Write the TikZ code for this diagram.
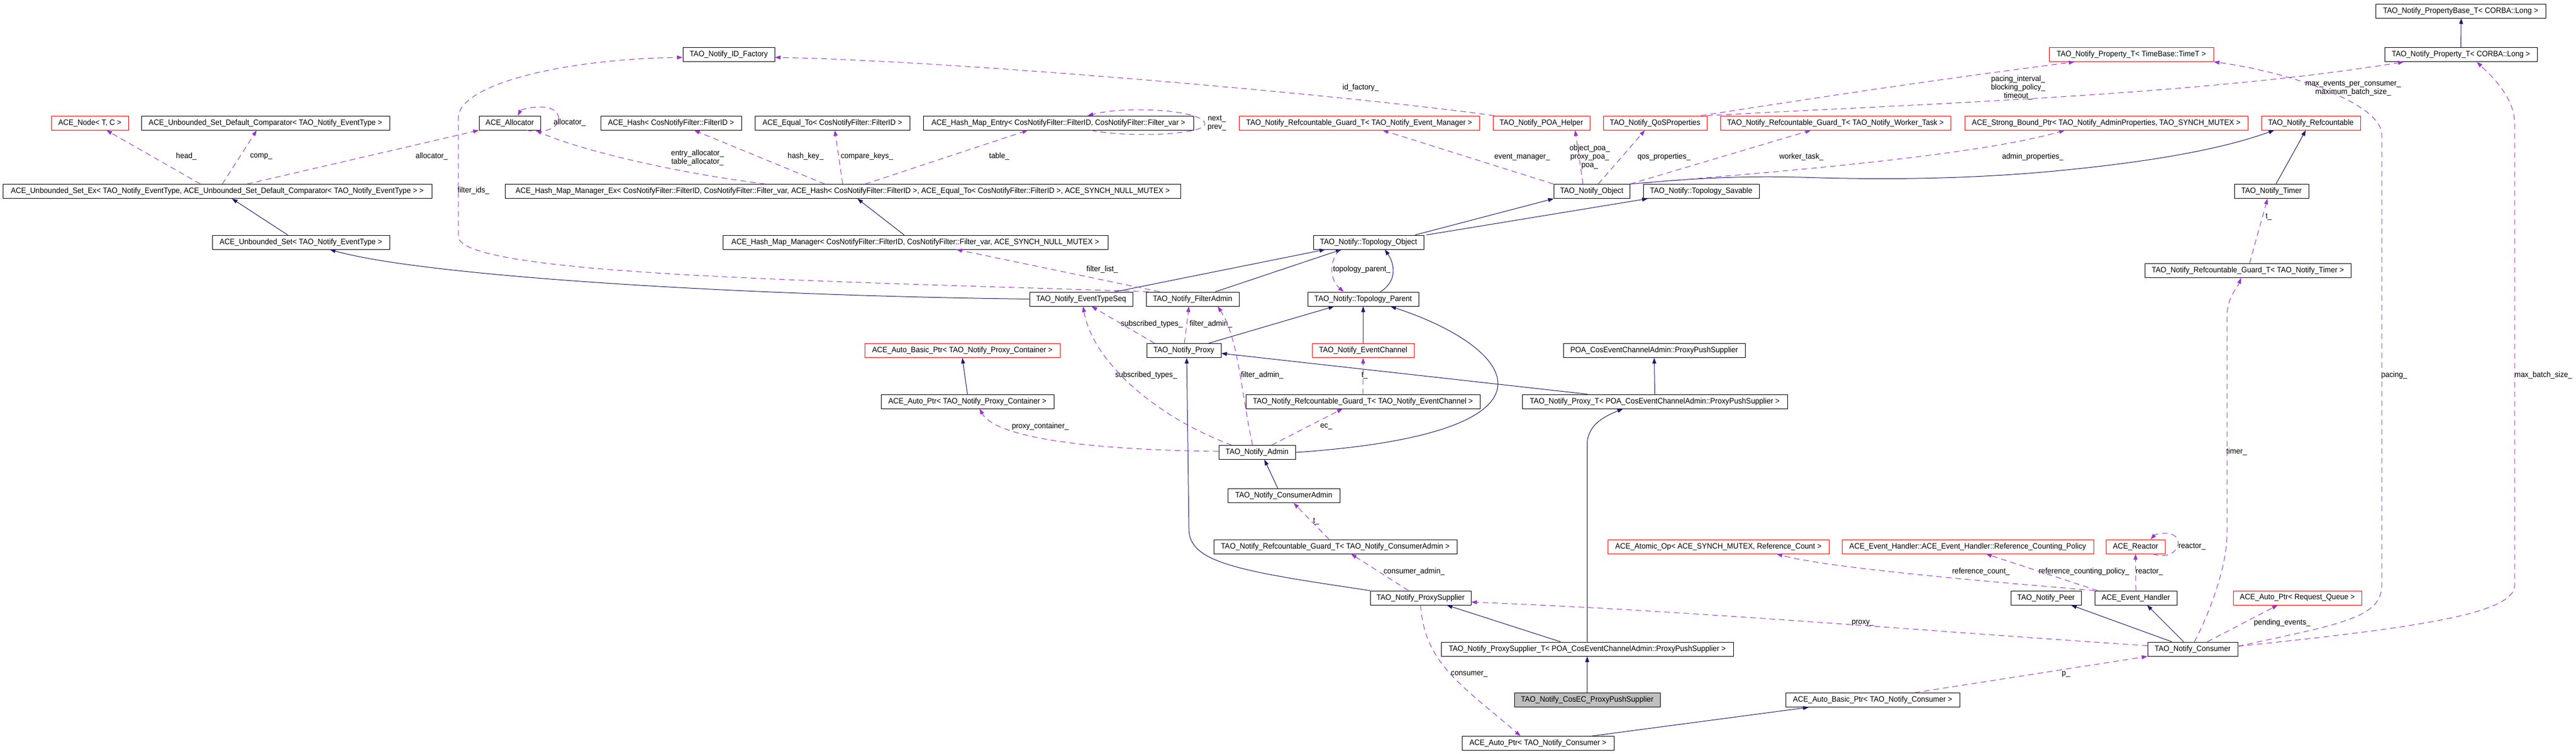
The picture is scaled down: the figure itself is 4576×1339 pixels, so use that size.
\documentclass[tikz,border=0pt]{standalone}
\usepackage{fontspec}
\usetikzlibrary{arrows.meta}
\newfontfamily\dxfont[FakeStretch=0.94]{Liberation Sans}
\definecolor{dxnavy}{HTML}{191970}
\definecolor{dxpurple}{HTML}{9A32CD}
\definecolor{dxgray}{HTML}{BFBFBF}

\begin{document}
\begin{tikzpicture}[x=1pt, y=-1pt,
    every node/.style={font=\dxfont\fontsize{14}{15}\selectfont, inner sep=0pt},
    cls/.style={draw=black, fill=white, line width=1pt, minimum height=25pt, minimum width=#1pt},
    redcls/.style={cls=#1, draw=red},
    curcls/.style={cls=#1, fill=dxgray},
    lbl/.style={align=center},
    isa/.style={draw=dxnavy, line width=1pt, -{Triangle[length=10pt,width=7pt]}},
    hasa/.style={draw=dxpurple, line width=1pt, dash pattern=on 10pt off 7pt, -{Triangle[length=10pt,width=7pt]}}]
        \useasboundingbox (0,0) rectangle (4576,1339);

        % Vertices
        \node[cls=302] (propbase) at (4371,19.5) {TAO\_Notify\_PropertyBase\_T< CORBA::Long >};
        \node[cls=163] (idfactory) at (1294.5,97) {TAO\_Notify\_ID\_Factory};
        \node[redcls=292] (proptime) at (3786,97) {TAO\_Notify\_Property\_T< TimeBase::TimeT >};
        \node[cls=271] (proplong) at (4371.5,97) {TAO\_Notify\_Property\_T< CORBA::Long >};

        \node[redcls=137] (acenode) at (159.5,218.5) {ACE\_Node< T, C >};
        \node[cls=441] (defcmp) at (471.5,218.5) {ACE\_Unbounded\_Set\_Default\_Comparator< TAO\_Notify\_EventType >};
        \node[cls=109] (alloc) at (905.5,218.5) {ACE\_Allocator};
        \node[cls=250] (hash) at (1192,218.5) {ACE\_Hash< CosNotifyFilter::FilterID >};
        \node[cls=275] (equal) at (1478.5,218.5) {ACE\_Equal\_To< CosNotifyFilter::FilterID >};
        \node[cls=480] (entry) at (1880,218.5) {ACE\_Hash\_Map\_Entry< CosNotifyFilter::FilterID, CosNotifyFilter::Filter\_var >};
        \node[redcls=427] (guardem) at (2414.5,218.5) {TAO\_Notify\_Refcountable\_Guard\_T< TAO\_Notify\_Event\_Manager >};
        \node[redcls=172] (poahelper) at (2738,218.5) {TAO\_Notify\_POA\_Helper};
        \node[redcls=184] (qos) at (2940,218.5) {TAO\_Notify\_QoSProperties};
        \node[redcls=409] (guardwt) at (3260.5,218.5) {TAO\_Notify\_Refcountable\_Guard\_T< TAO\_Notify\_Worker\_Task >};
        \node[redcls=503] (strongptr) at (3741.5,218.5) {ACE\_Strong\_Bound\_Ptr< TAO\_Notify\_AdminProperties, TAO\_SYNCH\_MUTEX >};
        \node[redcls=176] (refcnt) at (4105,218.5) {TAO\_Notify\_Refcountable};

        \node[cls=762] (setex) at (386,340) {ACE\_Unbounded\_Set\_Ex< TAO\_Notify\_EventType, ACE\_Unbounded\_Set\_Default\_Comparator< TAO\_Notify\_EventType > >};
        \node[cls=1200] (mapex) at (1497,340) {ACE\_Hash\_Map\_Manager\_Ex< CosNotifyFilter::FilterID, CosNotifyFilter::Filter\_var, ACE\_Hash< CosNotifyFilter::FilterID >, ACE\_Equal\_To< CosNotifyFilter::FilterID >, ACE\_SYNCH\_NULL\_MUTEX >};
        \node[cls=135] (notifyobj) at (2827.5,340) {TAO\_Notify\_Object};
        \node[cls=206] (savable) at (3022,340) {TAO\_Notify::Topology\_Savable};
        \node[cls=132] (timer) at (4035,340) {TAO\_Notify\_Timer};

        \node[cls=315] (uset) at (534.5,430.5) {ACE\_Unbounded\_Set< TAO\_Notify\_EventType >};
        \node[cls=684] (mapmgr) at (1626,430.5) {ACE\_Hash\_Map\_Manager< CosNotifyFilter::FilterID, CosNotifyFilter::Filter\_var, ACE\_SYNCH\_NULL\_MUTEX >};
        \node[cls=196] (topoobj) at (2431,430.5) {TAO\_Notify::Topology\_Object};
        \node[cls=366] (guardtimer) at (3993,481) {TAO\_Notify\_Refcountable\_Guard\_T< TAO\_Notify\_Timer >};

        \node[cls=183] (evtseq) at (1920.5,531.5) {TAO\_Notify\_EventTypeSeq};
        \node[cls=165] (filteradmin) at (2118.5,531.5) {TAO\_Notify\_FilterAdmin};
        \node[cls=197] (topoparent) at (2421.5,531.5) {TAO\_Notify::Topology\_Parent};

        \node[redcls=347] (basicpc) at (1709.5,623) {ACE\_Auto\_Basic\_Ptr< TAO\_Notify\_Proxy\_Container >};
        \node[cls=132] (proxy) at (2103,623) {TAO\_Notify\_Proxy};
        \node[redcls=181] (evchannel) at (2421.5,623) {TAO\_Notify\_EventChannel};
        \node[cls=323] (poapps) at (2938.5,623) {POA\_CosEventChannelAdmin::ProxyPushSupplier};

        \node[cls=307] (autopc) at (1718.5,713.5) {ACE\_Auto\_Ptr< TAO\_Notify\_Proxy\_Container >};
        \node[cls=416] (guardec) at (2421,713.5) {TAO\_Notify\_Refcountable\_Guard\_T< TAO\_Notify\_EventChannel >};
        \node[cls=471] (proxyt) at (2939.5,713.5) {TAO\_Notify\_Proxy\_T< POA\_CosEventChannelAdmin::ProxyPushSupplier >};

        \node[cls=136] (admin) at (2233,804) {TAO\_Notify\_Admin};
        \node[cls=199] (consadmin) at (2280.5,881) {TAO\_Notify\_ConsumerAdmin};

        \node[cls=432] (guardca) at (2372,971.5) {TAO\_Notify\_Refcountable\_Guard\_T< TAO\_Notify\_ConsumerAdmin >};
        \node[redcls=393] (atomic) at (3052.5,971.5) {ACE\_Atomic\_Op< ACE\_SYNCH\_MUTEX, Reference\_Count >};
        \node[redcls=447] (refpolicy) at (3495.5,971.5) {ACE\_Event\_Handler::ACE\_Event\_Handler::Reference\_Counting\_Policy};
        \node[redcls=105] (reactor) at (3793.5,971.5) {ACE\_Reactor};

        \node[cls=179] (proxysup) at (2523.5,1062.5) {TAO\_Notify\_ProxySupplier};
        \node[cls=125] (peer) at (3634.5,1062.5) {TAO\_Notify\_Peer};
        \node[cls=146] (evhandler) at (3794,1062.5) {ACE\_Event\_Handler};
        \node[redcls=228] (reqqueue) at (4081,1062.5) {ACE\_Auto\_Ptr< Request\_Queue >};

        \node[cls=519] (proxysupt) at (2819.5,1153.5) {TAO\_Notify\_ProxySupplier\_T< POA\_CosEventChannelAdmin::ProxyPushSupplier >};
        \node[cls=160] (consumer) at (3895,1153.5) {TAO\_Notify\_Consumer};

        \node[curcls=259] (cosec) at (2819.5,1244) {TAO\_Notify\_CosEC\_ProxyPushSupplier};
        \node[cls=309] (basiccons) at (3326.5,1244) {ACE\_Auto\_Basic\_Ptr< TAO\_Notify\_Consumer >};
        \node[cls=270] (autocons) at (2732,1321) {ACE\_Auto\_Ptr< TAO\_Notify\_Consumer >};

        % Edge labels
        \node[lbl] (lhead) at (331,278) {head\_};
        \node[lbl] (lcomp) at (464,278) {comp\_};
        \node[lbl] (lalloc) at (767,278) {allocator\_};
        \node[lbl] (lallocself) at (1012,218) {allocator\_};
        \node[lbl] (lfilterids) at (841,339) {filter\_ids\_};
        \node[lbl] (lentryalloc) at (1239,280) {entry\_allocator\_\\table\_allocator\_};
        \node[lbl] (lhashkey) at (1431,278) {hash\_key\_};
        \node[lbl] (lcmpkeys) at (1540,278) {compare\_keys\_};
        \node[lbl] (ltable) at (1775,278) {table\_};
        \node[lbl, anchor=west] (lnext) at (2145,219) {next\_\\prev\_};
        \node[lbl] (lidfactory) at (2417,156) {id\_factory\_};
        \node[lbl] (levtmgr) at (2704,279) {event\_manager\_};
        \node[lbl] (lpoa) at (2824,279) {object\_poa\_\\proxy\_poa\_\\poa\_};
        \node[lbl] (lqos) at (2956,279) {qos\_properties\_};
        \node[lbl] (lworker) at (3200,279) {worker\_task\_};
        \node[lbl] (ladminprops) at (3611,279) {admin\_properties\_};
        \node[lbl] (lpacingint) at (3585,156) {pacing\_interval\_\\blocking\_policy\_\\timeout\_};
        \node[lbl] (lmaxevents) at (4180,157) {max\_events\_per\_consumer\_\\maximum\_batch\_size\_};
        \node[lbl] (ltimert) at (4030,385) {t\_};
        \node[lbl] (lfilterlist) at (1958,479) {filter\_list\_};
        \node[lbl] (ltopoparent) at (2419,479) {topology\_parent\_};
        \node[lbl] (lsubtypes) at (2046,576) {subscribed\_types\_};
        \node[lbl] (lfadmin) at (2151,576) {filter\_admin\_};
        \node[lbl] (lsubtypesb) at (2036,667) {subscribed\_types\_};
        \node[lbl] (lfadminb) at (2242,667) {filter\_admin\_};
        \node[lbl] (lect) at (2424,667) {t\_};
        \node[lbl] (lproxycont) at (1848,758) {proxy\_container\_};
        \node[lbl] (lec) at (2356,758) {ec\_};
        \node[lbl] (ltimer) at (3973,803) {timer\_};
        \node[lbl] (lpacing) at (4253,667) {pacing\_};
        \node[lbl] (lmaxbatch) at (4518,667) {max\_batch\_size\_};
        \node[lbl] (lcat) at (2338,926) {t\_};
        \node[lbl] (lconsadmin) at (2512,1016) {consumer\_admin\_};
        \node[lbl] (lrefcount) at (3519,1016) {reference\_count\_};
        \node[lbl] (lrefpolicy) at (3702,1016) {reference\_counting\_policy\_};
        \node[lbl] (lreactor) at (3818,1016) {reactor\_};
        \node[lbl] (lreactorself) at (3894,971) {reactor\_};
        \node[lbl] (lproxy) at (3309,1107) {proxy\_};
        \node[lbl] (lpending) at (4054,1107) {pending\_events\_};
        \node[lbl] (lp) at (3670,1198) {p\_};
        \node[lbl] (lconsumer) at (2610,1198) {consumer\_};

        % Edges: base classes
        \draw[isa] ([xshift=-23.5pt]uset.north) -- ([xshift=26pt]setex.south);
        \draw[isa] ([xshift=-20pt]mapmgr.north) -- ([xshift=26pt]mapex.south);
        \draw[isa] (evtseq.west) .. controls (1300,525) and (750,490) .. ([xshift=51.5pt]uset.south);
        \draw[isa] ([xshift=60.5pt]evtseq.north) -- ([xshift=-77pt]topoobj.south);
        \draw[isa] ([xshift=40.5pt]filteradmin.north) -- ([xshift=-48pt]topoobj.south);
        \draw[isa] ([xshift=30.5pt]topoparent.north) .. controls (2482,500) and (2478,470) .. ([xshift=29pt]topoobj.south);
        \draw[isa] ([xshift=83pt]topoobj.north) -- ([xshift=-67.5pt]notifyobj.south);
        \draw[isa] ([xshift=103pt]topoobj.north) -- ([xshift=-95pt]savable.south);
        \draw[isa] (notifyobj.north east) .. controls (3000,318) and (3080,312) .. (3200,315) .. controls (3350,320) and (3500,318) .. (3650,304) .. controls (3850,285) and (3960,260) .. ([xshift=-65pt]refcnt.south);
        \draw[isa] (proplong.north) -- ([xshift=1pt]propbase.south);
        \draw[isa] ([xshift=8pt]timer.north) -- ([xshift=-9pt]refcnt.south);
        \draw[isa] ([xshift=44pt]proxy.north) -- ([xshift=-51.5pt]topoparent.south);
        \draw[isa] (evchannel.north) -- (topoparent.south);
        \draw[isa] (admin.east) .. controls (2800,770) and (2700,620) .. ([xshift=48.5pt]topoparent.south);
        \draw[isa] (autopc.north) -- (basicpc.south);
        \draw[isa] (proxyt.north) -- (poapps.south);
        \draw[isa] ([xshift=-119.5pt]proxyt.north) -- ([yshift=-5pt]proxy.east);
        \draw[isa] (proxysup.north west) .. controls (2200,1015) and (2112,1000) .. (2112,940) -- ([xshift=5pt]proxy.south);
        \draw[isa] ([xshift=-10.5pt]consadmin.north) -- ([xshift=13pt]admin.south);
        \draw[isa] ([xshift=-47.5pt]proxysupt.north) -- ([xshift=46.5pt]proxysup.south);
        \draw[isa] (proxysupt.north) -- (2819.5,790) .. controls (2819.5,755) and (2850,740) .. ([xshift=-56.5pt]proxyt.south);
        \draw[isa] (cosec.north) -- (proxysupt.south);
        \draw[isa] ([xshift=96pt]autocons.north) -- ([xshift=-113.5pt]basiccons.south);
        \draw[isa] ([xshift=-37pt]consumer.north) -- ([xshift=44.5pt]peer.south);
        \draw[isa] ([xshift=-16pt]consumer.north) -- ([xshift=20pt]evhandler.south);

        % Edges: members
        \draw[hasa] ([xshift=-30pt]setex.north) -- ([xshift=29.5pt]acenode.south);
        \draw[hasa] ([xshift=9pt]setex.north) -- ([xshift=-15.5pt]defcmp.south);
        \draw[hasa] ([xshift=53pt]setex.north) -- (alloc.south west);
        \draw[hasa] ([xshift=30pt]alloc.south) .. controls (1000,245) and (1012,190) .. (960,190) .. controls (940,190) and (925,195) .. ([xshift=14.5pt]alloc.north);
        \draw[hasa] ([xshift=-138pt]mapex.north) .. controls (1150,300) and (1000,255) .. ([xshift=46.5pt]alloc.south);
        \draw[hasa] ([xshift=-32pt]mapex.north) -- ([xshift=41pt]hash.south);
        \draw[hasa] (mapex.north) -- ([xshift=4.5pt]equal.south);
        \draw[hasa] ([xshift=40pt]mapex.north) -- ([xshift=-54pt]entry.south);
        \draw[hasa] ([xshift=58pt]entry.south) .. controls (2000,245) and (2150,240) .. (2140,218) .. controls (2130,195) and (2000,188) .. ([xshift=52pt]entry.north);
        \draw[hasa] ([xshift=-78.5pt]filteradmin.north) .. controls (1500,500) and (814,490) .. (814,420) -- (814,210) .. controls (814,150) and (1000,105) .. ([yshift=-5pt]idfactory.west);
        \draw[hasa] ([xshift=-58.5pt]filteradmin.north) -- ([xshift=73pt]mapmgr.south);
        \draw[hasa] ([xshift=3pt]poahelper.north west) .. controls (2400,170) and (1700,108) .. ([yshift=-5pt]idfactory.east);
        \draw[hasa] (notifyobj.north west) -- ([xshift=41.5pt]guardem.south);
        \draw[hasa] ([xshift=-15.5pt]notifyobj.north) -- ([xshift=60pt]poahelper.south);
        \draw[hasa] ([xshift=11.5pt]notifyobj.north) -- ([xshift=-18pt]qos.south);
        \draw[hasa] (notifyobj.north east) -- ([xshift=-43.5pt]guardwt.south);
        \draw[hasa] (notifyobj.north east) .. controls (3100,310) and (3500,280) .. ([xshift=-73.5pt]strongptr.south);
        \draw[hasa] ([xshift=-11pt]qos.north east) .. controls (3250,170) and (3450,140) .. ([xshift=-101pt]proptime.south);
        \draw[hasa] (qos.north east) .. controls (3400,185) and (3900,170) .. ([xshift=-101.5pt]proplong.south);
        \draw[hasa] ([yshift=5pt]consumer.east) .. controls (4150,1110) and (4231,1100) .. (4231,1040) -- (4231,240) .. controls (4231,180) and (4050,125) .. (proptime.south east);
        \draw[hasa] ([yshift=5pt]consumer.east) .. controls (4300,1115) and (4467,1090) .. (4467,1040) -- (4467,220) .. controls (4467,170) and (4420,130) .. ([xshift=28.5pt]proplong.south);
        \draw[hasa] ([xshift=3pt]consumer.north) .. controls (3930,1080) and (3956,1000) .. (3956,950) -- (3956,560) .. controls (3956,530) and (3975,510) .. ([xshift=-12pt]guardtimer.south);
        \draw[hasa] ([xshift=3pt]guardtimer.north) -- ([xshift=-7pt]timer.south);
        \draw[hasa] ([xshift=26pt]consumer.north) -- ([xshift=-35pt]reqqueue.south);
        \draw[hasa] ([yshift=6pt]consumer.west) .. controls (3400,1120) and (3000,1085) .. ([yshift=-7.5pt]proxysup.east);
        \draw[hasa] ([xshift=74.5pt]basiccons.north) -- (consumer.south west);
        \draw[hasa] (proxysup.south) .. controls (2530,1180) and (2600,1220) .. ([xshift=-31pt]autocons.north);
        \draw[hasa] ([xshift=-21.5pt]proxysup.north) -- ([xshift=28pt]guardca.south);
        \draw[hasa] ([xshift=-11pt]guardca.north) -- ([xshift=17.5pt]consadmin.south);
        \draw[hasa] (evhandler.north west) .. controls (3550,1035) and (3250,1010) .. ([xshift=103.5pt]atomic.south);
        \draw[hasa] ([xshift=-68pt]evhandler.north) -- ([xshift=32.5pt]refpolicy.south);
        \draw[hasa] (evhandler.north) -- (reactor.south);
        \draw[hasa] ([xshift=31pt]reactor.south) .. controls (3870,1000) and (3885,950) .. (3850,948) .. controls (3835,947) and (3828,950) .. ([xshift=27pt]reactor.north);
        \draw[hasa] ([xshift=-45pt]admin.north) .. controls (2050,740) and (1940,640) .. ([xshift=3.5pt]evtseq.south);
        \draw[hasa] ([xshift=-8pt]admin.north) .. controls (2205,700) and (2200,600) .. ([xshift=44.5pt]filteradmin.south);
        \draw[hasa] ([xshift=26pt]admin.north) -- ([xshift=-36pt]guardec.south);
        \draw[hasa] ([yshift=2pt]admin.west) .. controls (1950,800) and (1770,780) .. ([xshift=21.5pt]autopc.south);
        \draw[hasa] ([xshift=-52pt]proxy.north) -- ([xshift=18.5pt]evtseq.south);
        \draw[hasa] ([xshift=1pt]proxy.north) -- ([xshift=-6.5pt]filteradmin.south);
        \draw[hasa] ([xshift=-52pt]topoobj.south) .. controls (2358,470) and (2365,500) .. ([xshift=-34.5pt]topoparent.north);
        \draw[hasa] (guardec.north) -- (evchannel.south);
    \end{tikzpicture}
\end{document}
